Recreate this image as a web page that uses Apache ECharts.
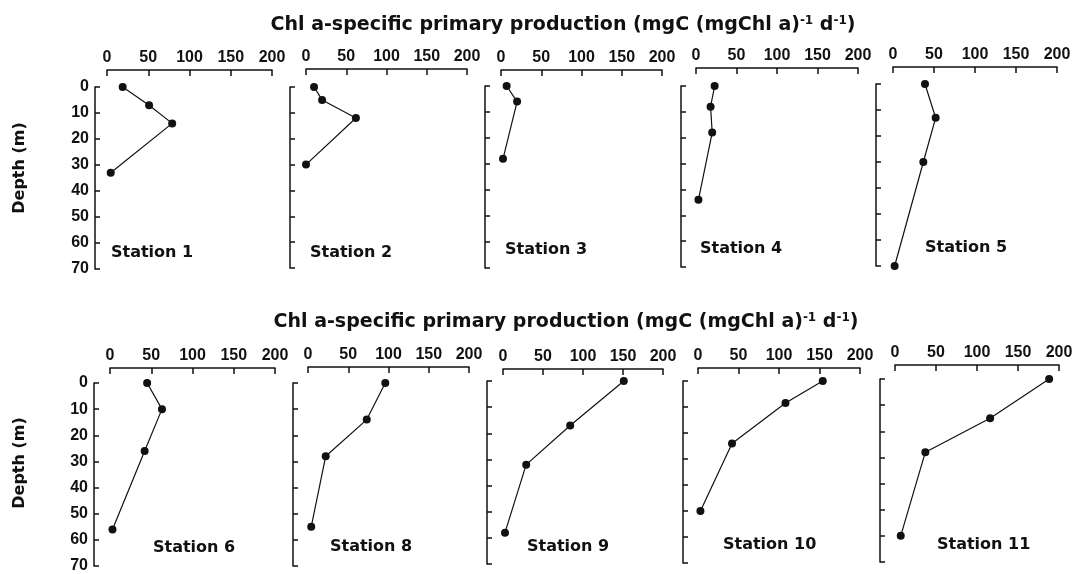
<!DOCTYPE html>
<html>
<head>
<meta charset="utf-8">
<script src="https://cdn.jsdelivr.net/npm/echarts@6/dist/echarts.min.js"></script>
<style>
  html, body { margin: 0; padding: 0; background: #fff; }
  #chart { width: 1080px; height: 574px; }
</style>
</head>
<body>
<div id="chart"></div>
<script>
// production values (mgC (mgChl a)-1 d-1) and the matching depths (m)
var stations = ['Station 1', 'Station 2', 'Station 3', 'Station 4', 'Station 5',
                'Station 6', 'Station 8', 'Station 9', 'Station 10', 'Station 11'];
var st1Prod = [19, 51, 79, 4.5],  st1Depth = [0, 7, 14, 33];
var st2Prod = [10, 20, 62, 0],    st2Depth = [0, 5, 12, 30];
var st3Prod = [7, 20, 2.5],       st3Depth = [0, 6, 28];
var st4Prod = [23, 18, 20, 3],    st4Depth = [0, 8, 18, 44];
var st5Prod = [39, 52, 37, 2],    st5Depth = [0, 13, 30, 70];
var st6Prod = [45, 63, 42, 3],    st6Depth = [0, 10, 26, 56];
var st8Prod = [96, 73, 22, 4],    st8Depth = [0, 14, 28, 55];
var st9Prod = [151, 84, 29, 2.5], st9Depth = [0, 17, 32, 58];
var st10Prod = [154, 108, 42, 3], st10Depth = [0, 8.5, 24, 50];
var st11Prod = [188, 116, 37, 7], st11Depth = [0, 15, 28, 60];
var prodTicks = [0, 200, 50];   // min, max, step
var depthTicks = [0, 70, 10];

var prodList = [st1Prod, st2Prod, st3Prod, st4Prod, st5Prod, st6Prod, st8Prod, st9Prod, st10Prod, st11Prod];
var depthList = [st1Depth, st2Depth, st3Depth, st4Depth, st5Depth, st6Depth, st8Depth, st9Depth, st10Depth, st11Depth];

// panel layout: left, width, top, height, x axis offset, y axis offset
var panels = [
  [107, 165, 87, 182, 17, 12],
  [306, 161, 87, 181, 18, 16],
  [501, 161, 86, 182, 16, 16],
  [696, 162, 86, 181, 18, 15],
  [893, 164, 84, 182, 17, 17],
  [110, 165, 383, 183, 15, 16],
  [308, 161, 383, 183, 16, 15],
  [503, 160, 381, 183, 12, 16],
  [698, 162, 381, 182, 13, 15],
  [895, 164, 379, 183, 14, 15]
];
// station label anchor (left, middle)
var labelPos = [
  [111, 253], [310, 253], [505, 250], [700, 249], [925, 248],
  [153, 548], [330, 547], [527, 547], [723, 545], [937, 545]
];

var FONT = '"Liberation Sans", Arial, sans-serif';
var WIDE = '"DejaVu Sans", sans-serif';
var INK = '#111';

var grids = [], xAxes = [], yAxes = [], series = [], graphics = [];

panels.forEach(function (p, i) {
  grids.push({ left: p[0], width: p[1], top: p[2], height: p[3] });
  xAxes.push({
    gridIndex: i, type: 'value', position: 'top', offset: p[4],
    min: prodTicks[0], max: prodTicks[1], interval: prodTicks[2],
    axisLine: { show: true, onZero: false, lineStyle: { color: INK, width: 1.5 } },
    axisTick: { show: true, inside: true, length: 6, lineStyle: { color: INK, width: 1.5 } },
    axisLabel: { margin: 4, color: INK, fontSize: 16, fontWeight: 'bold', fontFamily: FONT },
    splitLine: { show: false }
  });
  var showY = (i === 0 || i === 5);
  yAxes.push({
    gridIndex: i, type: 'value', position: 'left', offset: p[5], inverse: true,
    min: depthTicks[0], max: depthTicks[1], interval: depthTicks[2],
    axisLine: { show: true, onZero: false, lineStyle: { color: INK, width: 1.5 } },
    axisTick: { show: true, inside: true, length: 5, lineStyle: { color: INK, width: 1.5 } },
    axisLabel: { show: showY, margin: 6, color: INK, fontSize: 16, fontWeight: 'bold', fontFamily: FONT },
    splitLine: { show: false }
  });
  series.push({
    type: 'line', xAxisIndex: i, yAxisIndex: i,
    data: prodList[i].map(function (v, k) { return [v, depthList[i][k]]; }),
    symbol: 'circle', symbolSize: 8, clip: false,
    lineStyle: { color: INK, width: 1.2 },
    itemStyle: { color: INK },
    animation: false
  });
  graphics.push({
    type: 'text', x: labelPos[i][0], y: labelPos[i][1],
    style: { text: stations[i], font: 'bold 16px ' + WIDE, fill: INK, align: 'left', verticalAlign: 'middle' }
  });
});

var titleRich = {
  t: { font: 'bold 19px ' + WIDE, fill: INK, color: INK },
  s: { font: 'bold 12px ' + WIDE, fill: INK, color: INK, verticalAlign: 'top', padding: [0, 0, 9, 0] }
};
var titleText = '{t|Chl a-specific primary production (mgC (mgChl a)}{s|-1}{t| d}{s|-1}{t|)}';
[[563, 25], [566, 322]].forEach(function (pos) {
  graphics.push({
    type: 'text', x: pos[0], y: pos[1],
    style: { text: titleText, rich: titleRich, align: 'center', verticalAlign: 'middle' }
  });
});
[[20, 168], [20, 463]].forEach(function (pos) {
  graphics.push({
    type: 'text', x: pos[0], y: pos[1], rotation: Math.PI / 2,
    style: { text: 'Depth (m)', font: 'bold 16px ' + WIDE, fill: INK, align: 'center', verticalAlign: 'middle' }
  });
});

var myChart = echarts.init(document.getElementById('chart'));
myChart.setOption({
  animation: false,
  backgroundColor: '#fff',
  grid: grids,
  xAxis: xAxes,
  yAxis: yAxes,
  series: series,
  graphic: graphics
});
</script>
</body>
</html>
